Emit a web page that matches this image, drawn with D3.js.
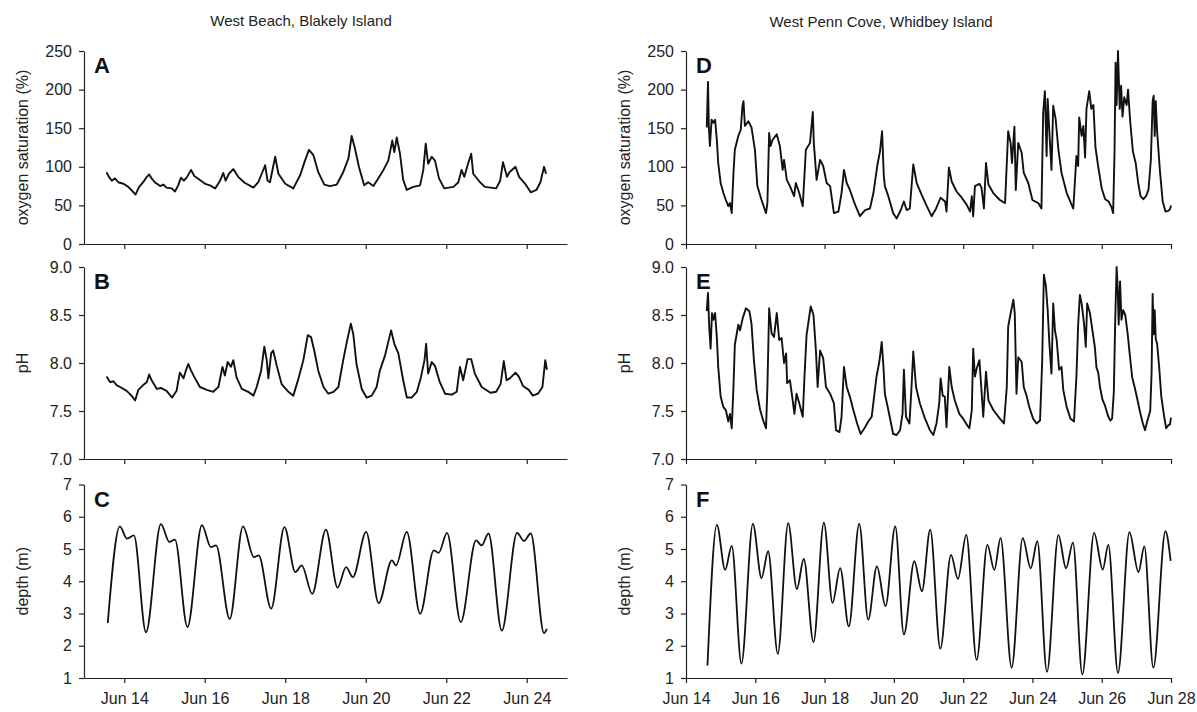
<!DOCTYPE html>
<html>
<head>
<meta charset="utf-8">
<script src="https://cdn.jsdelivr.net/npm/d3@7"></script>
<style>
  body { margin: 0; background: #fff; }
  svg text { font-family: "Liberation Sans", Arial, sans-serif; fill: #222; }
</style>
</head>
<body>
<svg id="chart" width="1197" height="712"></svg>
<script>
// values; day = fractional day of June
var blakelyO2 = [[13.56,93],[13.62,87],[13.69,82],[13.77,85],[13.85,80],[13.98,78],[14.10,74],[14.23,67],[14.28,64],[14.37,74],[14.47,80],[14.56,87],[14.62,90],[14.68,85],[14.76,80],[14.89,75],[14.97,77],[15.05,73],[15.18,72],[15.26,68],[15.34,76],[15.41,86],[15.48,82],[15.55,86],[15.66,96],[15.74,88],[15.88,83],[16.01,78],[16.13,76],[16.26,72],[16.38,82],[16.46,92],[16.52,82],[16.60,91],[16.71,97],[16.83,87],[17.00,79],[17.21,73],[17.33,80],[17.50,102],[17.56,82],[17.62,80],[17.75,113],[17.83,91],[18.00,78],[18.20,72],[18.37,89],[18.49,108],[18.59,122],[18.70,115],[18.82,93],[18.97,77],[19.11,75],[19.28,77],[19.44,93],[19.57,111],[19.65,140],[19.73,124],[19.83,100],[19.96,76],[20.06,80],[20.19,75],[20.31,85],[20.44,96],[20.56,108],[20.66,134],[20.71,119],[20.77,138],[20.85,117],[20.93,83],[21.02,70],[21.18,74],[21.35,76],[21.43,96],[21.49,130],[21.55,104],[21.64,113],[21.72,108],[21.82,85],[21.95,72],[22.18,74],[22.30,80],[22.38,96],[22.45,87],[22.53,102],[22.62,117],[22.67,91],[22.84,80],[22.96,74],[23.24,72],[23.34,82],[23.41,106],[23.51,87],[23.57,93],[23.72,100],[23.81,87],[23.96,78],[24.10,67],[24.24,70],[24.34,80],[24.43,100],[24.48,91]];

var blakelyPH = [[13.56,7.86],[13.65,7.80],[13.73,7.81],[13.81,7.77],[13.94,7.74],[14.06,7.71],[14.18,7.66],[14.27,7.61],[14.35,7.72],[14.47,7.77],[14.56,7.80],[14.62,7.88],[14.68,7.82],[14.81,7.73],[14.91,7.74],[15.05,7.71],[15.19,7.64],[15.30,7.71],[15.38,7.90],[15.47,7.84],[15.53,7.92],[15.59,7.99],[15.66,7.92],[15.76,7.84],[15.88,7.75],[16.05,7.72],[16.21,7.70],[16.34,7.75],[16.44,7.96],[16.50,7.87],[16.57,8.01],[16.65,7.96],[16.71,8.03],[16.79,7.85],[16.92,7.73],[17.08,7.70],[17.21,7.66],[17.29,7.75],[17.40,7.92],[17.48,8.17],[17.54,8.03],[17.58,7.84],[17.65,8.10],[17.70,8.13],[17.79,7.97],[17.91,7.78],[18.08,7.70],[18.20,7.66],[18.33,7.84],[18.45,8.03],[18.56,8.29],[18.64,8.27],[18.72,8.13],[18.82,7.92],[18.95,7.75],[19.07,7.68],[19.20,7.70],[19.32,7.75],[19.44,8.03],[19.53,8.22],[19.63,8.41],[19.69,8.30],[19.77,7.99],[19.90,7.73],[20.02,7.64],[20.15,7.66],[20.27,7.75],[20.35,7.92],[20.48,8.08],[20.56,8.22],[20.63,8.34],[20.71,8.20],[20.81,8.10],[20.93,7.82],[21.02,7.64],[21.14,7.64],[21.27,7.70],[21.37,7.85],[21.46,8.03],[21.50,8.20],[21.55,7.89],[21.64,8.01],[21.72,7.97],[21.84,7.80],[21.97,7.68],[22.14,7.67],[22.26,7.70],[22.34,7.96],[22.42,7.82],[22.53,8.04],[22.62,8.04],[22.71,7.89],[22.88,7.75],[23.10,7.69],[23.24,7.70],[23.35,7.78],[23.43,8.02],[23.50,7.82],[23.58,7.84],[23.72,7.90],[23.80,7.86],[23.91,7.76],[24.05,7.72],[24.15,7.66],[24.28,7.68],[24.39,7.75],[24.46,8.03],[24.50,7.93]];

var blakelyDepth = [[13.59,2.70],[13.89,5.70],[14.07,5.32],[14.24,5.42],[14.54,2.42],[14.91,5.77],[15.12,5.22],[15.26,5.29],[15.57,2.58],[15.93,5.74],[16.15,5.06],[16.28,5.11],[16.62,2.83],[16.95,5.70],[17.22,4.75],[17.34,4.80],[17.65,3.15],[17.98,5.68],[18.25,4.28],[18.41,4.49],[18.67,3.61],[19.01,5.60],[19.30,3.80],[19.51,4.44],[19.68,4.13],[20.01,5.53],[20.32,3.32],[20.65,4.65],[20.75,4.49],[21.02,5.53],[21.35,2.99],[21.69,4.96],[21.81,4.88],[22.02,5.50],[22.36,2.73],[22.74,5.27],[22.88,5.11],[23.05,5.48],[23.38,2.47],[23.76,5.50],[23.93,5.25],[24.10,5.48],[24.43,2.39],[24.50,2.52]];

var pennO2 = [[14.60,151],[14.635,210],[14.66,151],[14.69,127],[14.74,161],[14.79,157],[14.84,161],[14.89,135],[14.93,105],[15.00,79],[15.08,66],[15.15,57],[15.22,49],[15.27,53],[15.32,40],[15.37,92],[15.41,122],[15.51,140],[15.58,148],[15.63,179],[15.66,185],[15.70,153],[15.80,159],[15.89,151],[15.99,122],[16.06,75],[16.18,57],[16.31,40],[16.35,53],[16.40,144],[16.44,127],[16.50,135],[16.62,142],[16.71,127],[16.79,96],[16.83,109],[16.91,83],[17.00,75],[17.12,62],[17.17,79],[17.27,66],[17.37,49],[17.46,122],[17.58,131],[17.66,171],[17.69,131],[17.77,83],[17.87,109],[17.96,101],[18.06,79],[18.16,75],[18.27,40],[18.40,42],[18.49,66],[18.56,96],[18.64,79],[18.73,70],[18.88,51],[19.02,36],[19.17,44],[19.31,46],[19.41,66],[19.52,101],[19.60,120],[19.66,146],[19.71,88],[19.74,75],[19.84,62],[19.98,40],[20.08,33],[20.20,44],[20.29,55],[20.37,44],[20.46,46],[20.56,103],[20.66,79],[20.80,64],[20.95,49],[21.09,36],[21.22,46],[21.35,60],[21.48,55],[21.52,42],[21.59,99],[21.67,81],[21.81,68],[21.96,60],[22.10,51],[22.20,42],[22.25,62],[22.29,36],[22.34,75],[22.47,78],[22.53,73],[22.60,46],[22.66,105],[22.73,77],[22.87,66],[23.06,57],[23.21,53],[23.30,146],[23.37,131],[23.41,105],[23.48,152],[23.52,70],[23.59,131],[23.69,118],[23.75,92],[23.88,79],[24.00,57],[24.17,53],[24.26,46],[24.31,170],[24.36,198],[24.41,114],[24.44,188],[24.49,144],[24.55,96],[24.60,179],[24.67,162],[24.75,122],[24.84,92],[24.99,66],[25.13,51],[25.18,46],[25.27,114],[25.32,101],[25.35,164],[25.42,140],[25.47,153],[25.52,112],[25.56,175],[25.64,198],[25.70,175],[25.76,180],[25.82,125],[25.90,100],[26.00,72],[26.10,58],[26.20,55],[26.28,48],[26.33,40],[26.37,120],[26.40,235],[26.43,180],[26.47,250],[26.52,175],[26.56,205],[26.60,165],[26.65,190],[26.72,180],[26.76,200],[26.82,160],[26.90,120],[26.98,105],[27.05,80],[27.12,62],[27.20,58],[27.28,62],[27.35,70],[27.42,110],[27.47,185],[27.50,192],[27.53,140],[27.56,185],[27.60,145],[27.68,95],[27.76,55],[27.84,42],[27.92,43],[27.97,45],[28.00,50]];

var pennPH = [[14.60,8.54],[14.635,8.73],[14.67,8.38],[14.71,8.15],[14.75,8.52],[14.79,8.45],[14.84,8.52],[14.89,8.27],[14.93,7.96],[15.00,7.65],[15.08,7.54],[15.15,7.51],[15.22,7.39],[15.27,7.47],[15.32,7.32],[15.37,7.75],[15.41,8.19],[15.51,8.40],[15.56,8.34],[15.64,8.47],[15.73,8.57],[15.83,8.54],[15.89,8.41],[15.96,8.03],[16.04,7.72],[16.14,7.51],[16.23,7.40],[16.31,7.32],[16.35,7.75],[16.40,8.57],[16.47,8.31],[16.54,8.27],[16.62,8.52],[16.69,8.24],[16.76,8.26],[16.83,8.00],[16.89,8.10],[16.92,7.79],[17.00,7.82],[17.08,7.61],[17.13,7.47],[17.19,7.68],[17.27,7.58],[17.37,7.44],[17.42,7.86],[17.48,8.29],[17.60,8.59],[17.68,8.50],[17.75,8.13],[17.80,7.75],[17.87,8.13],[17.96,8.05],[18.04,7.75],[18.16,7.68],[18.27,7.58],[18.33,7.30],[18.43,7.28],[18.49,7.44],[18.56,7.96],[18.64,7.75],[18.73,7.65],[18.83,7.51],[18.94,7.37],[19.04,7.26],[19.17,7.33],[19.26,7.39],[19.36,7.44],[19.43,7.65],[19.50,7.86],[19.58,8.01],[19.65,8.22],[19.70,7.96],[19.74,7.68],[19.84,7.51],[19.98,7.26],[20.08,7.25],[20.18,7.30],[20.25,7.47],[20.29,7.93],[20.35,7.44],[20.45,7.37],[20.51,7.75],[20.56,8.12],[20.64,7.75],[20.75,7.58],[20.90,7.42],[21.04,7.30],[21.14,7.25],[21.23,7.37],[21.31,7.58],[21.35,7.84],[21.41,7.66],[21.47,7.65],[21.52,7.33],[21.60,7.96],[21.67,7.75],[21.76,7.61],[21.89,7.47],[22.00,7.42],[22.12,7.35],[22.18,7.32],[22.25,7.51],[22.29,8.15],[22.34,7.86],[22.39,7.94],[22.47,8.03],[22.51,7.82],[22.58,7.44],[22.66,7.91],[22.73,7.61],[22.87,7.51],[23.06,7.42],[23.18,7.37],[23.26,7.75],[23.30,8.38],[23.40,8.57],[23.45,8.66],[23.49,8.52],[23.54,7.68],[23.59,8.06],[23.69,8.01],[23.75,7.75],[23.83,7.66],[23.91,7.54],[24.02,7.42],[24.12,7.37],[24.22,7.40],[24.28,8.00],[24.33,8.92],[24.39,8.80],[24.44,8.55],[24.49,8.20],[24.55,7.89],[24.60,8.62],[24.65,8.34],[24.70,8.24],[24.77,7.93],[24.84,7.96],[24.89,7.72],[24.99,7.54],[25.10,7.42],[25.20,7.39],[25.27,7.86],[25.32,8.40],[25.37,8.71],[25.42,8.62],[25.49,8.41],[25.54,8.17],[25.58,8.62],[25.66,8.52],[25.76,8.27],[25.80,8.17],[25.85,7.95],[25.90,7.90],[25.95,7.75],[26.02,7.62],[26.10,7.55],[26.18,7.45],[26.25,7.40],[26.30,7.42],[26.35,7.70],[26.39,8.45],[26.43,9.00],[26.46,8.80],[26.49,8.40],[26.53,8.85],[26.57,8.45],[26.62,8.55],[26.68,8.50],[26.75,8.30],[26.82,8.05],[26.88,7.85],[26.95,7.75],[27.03,7.62],[27.10,7.50],[27.18,7.38],[27.25,7.30],[27.32,7.40],[27.40,7.50],[27.44,7.90],[27.47,8.72],[27.50,8.30],[27.53,8.55],[27.56,8.25],[27.60,8.20],[27.66,7.95],[27.72,7.65],[27.80,7.45],[27.86,7.32],[27.92,7.35],[27.97,7.36],[28.00,7.43]];

var pennDepth = [[14.62,1.39],[14.89,5.75],[15.13,4.35],[15.32,5.10],[15.60,1.45],[15.93,5.78],[16.18,4.10],[16.37,4.93],[16.65,1.75],[16.95,5.80],[17.20,3.76],[17.40,4.69],[17.68,2.11],[17.98,5.82],[18.23,3.33],[18.45,4.41],[18.70,2.60],[19.00,5.78],[19.26,2.81],[19.51,4.46],[19.76,3.23],[20.04,5.70],[20.29,2.35],[20.59,4.62],[20.81,3.69],[21.05,5.60],[21.34,1.91],[21.65,4.82],[21.85,4.07],[22.09,5.44],[22.39,1.56],[22.70,5.13],[22.90,4.35],[23.08,5.34],[23.40,1.32],[23.72,5.34],[23.95,4.40],[24.14,5.24],[24.42,1.19],[24.75,5.43],[24.97,4.40],[25.17,5.20],[25.44,1.11],[25.78,5.50],[26.03,4.36],[26.19,5.13],[26.47,1.16],[26.80,5.52],[27.06,4.28],[27.23,5.08],[27.49,1.32],[27.84,5.55],[27.99,4.63]];

var blakelyTickDays = [14, 16, 18, 20, 22, 24];
var pennTickDays = [14, 16, 18, 20, 22, 24, 26, 28];
var o2Ticks = [0, 50, 100, 150, 200, 250];
var phTicks = [7.0, 7.5, 8.0, 8.5, 9.0];
var depthTicks = [1, 2, 3, 4, 5, 6, 7];

var toDate = function (d) {
    return new Date(Date.UTC(2008, 5, 1) + (d - 1) * 864e5);
};

var svg = d3.select("#chart");

var columns = [
    { title: "West Beach, Blakely Island", titleX: 301, titleY: 26, left: 84, right: 567,
      days: [13, 25], ticks: blakelyTickDays, letters: ["A", "B", "C"],
      series: [blakelyO2, blakelyPH, blakelyDepth] },
    { title: "West Penn Cove, Whidbey Island", titleX: 881, titleY: 27, left: 686, right: 1171,
      days: [14, 28], ticks: pennTickDays, letters: ["D", "E", "F"],
      series: [pennO2, pennPH, pennDepth] }
];
var rows = [
    { top: 51, bottom: 244, domain: [0, 250], ticks: o2Ticks, fmt: d3.format("d"),
      label: "oxygen saturation (%)", curve: d3.curveLinear, width: 1.9 },
    { top: 267, bottom: 459, domain: [7, 9], ticks: phTicks, fmt: d3.format(".1f"),
      label: "pH", curve: d3.curveLinear, width: 1.9 },
    { top: 484.5, bottom: 678, domain: [1, 7], ticks: depthTicks, fmt: d3.format("d"),
      label: "depth (m)", curve: d3.curveMonotoneX, width: 1.8 }
];

columns.forEach(function (col) {
    svg.append("text")
        .attr("x", col.titleX)
        .attr("y", col.titleY)
        .attr("text-anchor", "middle")
        .attr("font-size", 15)
        .text(col.title);

    var x = d3.scaleUtc().domain(col.days.map(toDate)).range([col.left, col.right]);

    rows.forEach(function (row, r) {
        var y = d3.scaleLinear().domain(row.domain).range([row.bottom, row.top]);
        var isLast = r === rows.length - 1;

        var xAxis = svg.append("g")
            .attr("transform", "translate(0," + row.bottom + ")")
            .call(d3.axisBottom(x)
                .tickValues(col.ticks.map(toDate))
                .tickSize(5)
                .tickSizeOuter(0)
                .tickPadding(10)
                .tickFormat(isLast ? d3.utcFormat("%b %d") : ""));
        var yAxis = svg.append("g")
            .attr("transform", "translate(" + col.left + ",0)")
            .call(d3.axisLeft(y)
                .tickValues(row.ticks)
                .tickSize(5)
                .tickSizeOuter(0)
                .tickPadding(7)
                .tickFormat(row.fmt));

        [xAxis, yAxis].forEach(function (a) {
            a.attr("font-family", null).attr("font-size", 16);
            a.selectAll("path, line").attr("stroke", "#222").attr("stroke-width", 1.2);
            a.selectAll("text").attr("fill", "#222");
        });

        svg.append("text")
            .attr("transform", "rotate(-90)")
            .attr("x", -(row.top + row.bottom) / 2)
            .attr("y", col.left - 62)
            .attr("dy", "0.35em")
            .attr("text-anchor", "middle")
            .attr("font-size", 16)
            .text(row.label);

        svg.append("text")
            .attr("x", col.left + 10)
            .attr("y", row.top + 22)
            .attr("font-size", 22)
            .attr("font-weight", "bold")
            .style("fill", "#111")
            .text(col.letters[r]);

        var line = d3.line()
            .x(function (d) { return x(toDate(d[0])); })
            .y(function (d) { return y(d[1]); })
            .curve(row.curve);

        svg.append("path")
            .datum(col.series[r])
            .attr("fill", "none")
            .attr("stroke", "#111")
            .attr("stroke-width", row.width)
            .attr("stroke-linejoin", "round")
            .attr("d", line);
    });
});
</script>
</body>
</html>
